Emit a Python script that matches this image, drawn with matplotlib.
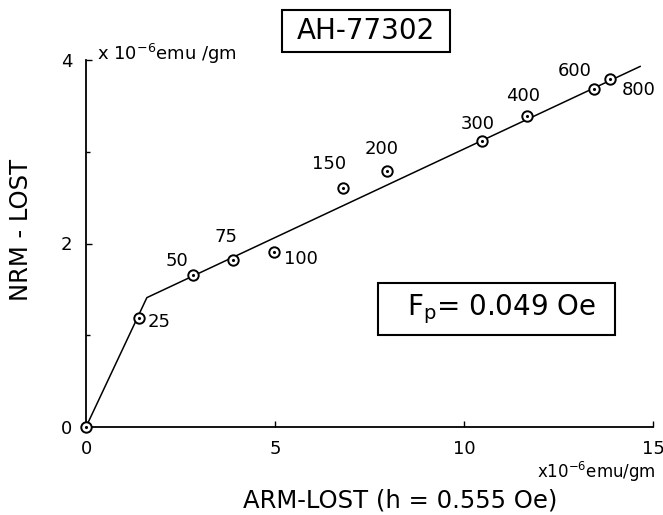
import matplotlib.pyplot as plt
import matplotlib.patches

# Datos (x 10^-6 emu/gm)
campos = ["0", "25", "50", "75", "100", "150", "200", "300", "400", "600", "800"]
arm_lost = [0.0, 1.40, 2.83, 3.89, 4.98, 6.80, 7.96, 10.48, 11.67, 13.44, 13.86]
nrm_lost = [0.0, 1.19, 1.66, 1.82, 1.91, 2.61, 2.79, 3.12, 3.39, 3.68, 3.79]

# recta de ajuste (dos tramos)
ajuste_x = [0.0, 1.61, 14.66]
ajuste_y = [0.0, 1.41, 3.93]

# desplazamiento de las etiquetas en pixeles (dx, dy, alineación)
offsets = {"25": (9, -4, "left"), "50": (-16, 14, "center"), "75": (-7, 23, "center"),
           "100": (10, -7, "left"), "150": (-14, 24, "center"), "200": (-5, 22, "center"),
           "300": (-4, 17, "center"), "400": (-4, 20, "center"), "600": (-19, 18, "center"),
           "800": (12, -11, "left")}

plt.rcParams["font.family"] = ["DejaVu Sans"]

fig = plt.figure(figsize=(6.63, 5.15), dpi=100)
ax = fig.add_axes([86/663, 88/515, 567/663, 367/515])

ax.plot(ajuste_x, ajuste_y, color="black", lw=1.1)
ax.plot(arm_lost, nrm_lost, "o", ms=7.5, mfc="white", mec="black", mew=1.4, clip_on=False, zorder=3)
ax.plot(arm_lost, nrm_lost, ".", ms=2.5, color="black", clip_on=False, zorder=4)

for lab, x, y in zip(campos, arm_lost, nrm_lost):
    if lab in offsets:
        dx, dy, ha = offsets[lab]
        ax.annotate(lab, (x, y), xytext=(dx, dy), textcoords="offset pixels",
                    ha=ha, va="center", fontsize=13)

ax.set_xlim(0, 15)
ax.set_ylim(0, 4)
ax.set_xticks([0, 5, 10, 15])
ax.set_yticks([0, 2, 4])
ax.set_yticks([1, 3], minor=True)
ax.tick_params(direction="in", length=4, width=1, labelsize=13)
ax.tick_params(axis="x", pad=9)
ax.tick_params(axis="y", pad=10)
ax.tick_params(which="minor", direction="in", length=3, width=1)
for s in ["top", "right"]:
    ax.spines[s].set_visible(False)
for s in ["left", "bottom"]:
    ax.spines[s].set_linewidth(1.3)

ax.set_ylabel("NRM - LOST", fontsize=17.5)
ax.yaxis.set_label_coords(-0.093, 0.537)
ax.set_xlabel("ARM-LOST (h = 0.555 Oe)", fontsize=17.5)
ax.xaxis.set_label_coords(0.554, -0.168)

fig.text(97/663, 1 - 60/515, r"x $10^{-6}$emu /gm", fontsize=13, va="baseline")
fig.text(656/663, 1 - 478/515, r"x$10^{-6}$emu/gm", fontsize=12, ha="right", va="baseline")

# recuadros
fig.patches.append(matplotlib.patches.Rectangle((282/663, 1 - 52/515), 168/663, 42/515,
                   transform=fig.transFigure, fill=False, ec="black", lw=1.5))
fig.text(366/663, 1 - 31/515, "AH-77302", fontsize=20, ha="center", va="center")
fig.patches.append(matplotlib.patches.Rectangle((378/663, 1 - 335/515), 237/663, 52/515,
                   transform=fig.transFigure, fill=False, ec="black", lw=1.5))
fig.text(407/663, 1 - 309/515, r"F$_\mathregular{p}$= 0.049 Oe", fontsize=20, ha="left", va="center")

fig.savefig("out.png", dpi=100)
